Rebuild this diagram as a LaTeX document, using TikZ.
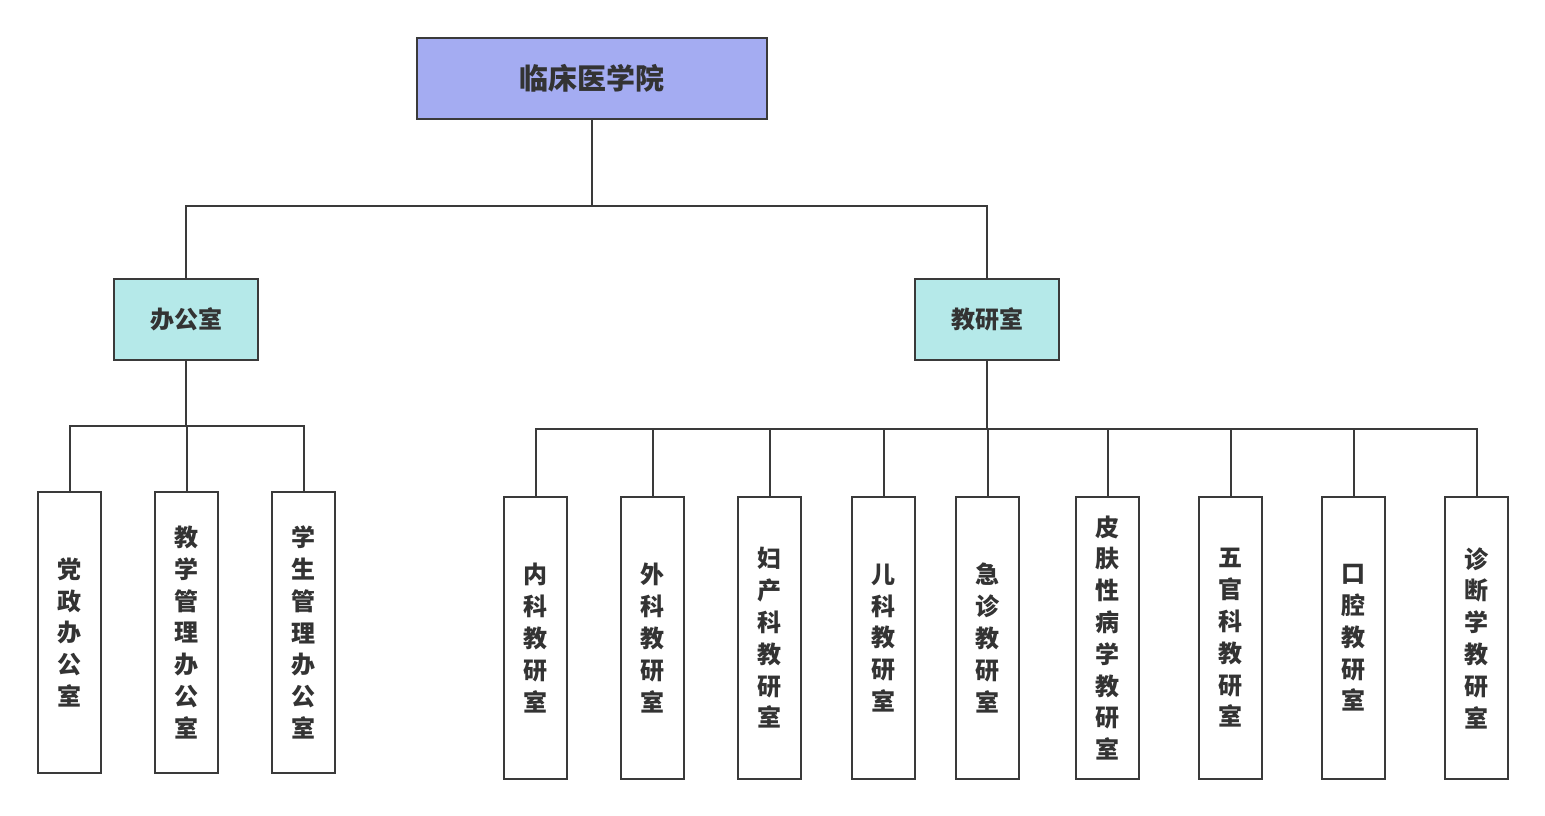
\documentclass[tikz,border=0pt]{standalone}
\usepackage{fontspec}
\usepackage{tikz}
\newfontfamily\cjk{Noto Sans CJK SC}[BoldFont={Noto Sans CJK SC Black}]
\definecolor{rootfill}{HTML}{A4ACF2}
\definecolor{deptfill}{HTML}{B5E9E9}
\definecolor{linegray}{HTML}{3A3A3A}
\definecolor{textgray}{HTML}{333333}

\begin{document}
\begin{tikzpicture}[x=1pt,y=1pt,yscale=-1,
	box/.style={draw=linegray, line width=2pt, inner sep=0pt, text=textgray, align=center, font=\cjk\bfseries},
	rootbox/.style={box, fill=rootfill, minimum width=350pt, minimum height=81pt, font=\cjk\bfseries\fontsize{29}{34}\selectfont},
	deptbox/.style={box, fill=deptfill, minimum width=144pt, minimum height=81pt, font=\cjk\bfseries\fontsize{24}{30}\selectfont},
	unitbox/.style={box, fill=white, minimum width=63pt, minimum height=282pt, font=\cjk\bfseries\fontsize{24}{31.8}\selectfont},
	link/.style={draw=linegray, line width=2pt}]
	\useasboundingbox (0,0) rectangle (1545,816);
	
	% top level
	\node [rootbox] (college) at (592,78.5) {临床医学院};
	\node [deptbox] (office) at (186,319.5) {办公室};
	\node [deptbox] (research) at (987,319.5) {教研室};
	
	% offices
	\node [unitbox, minimum height=281pt] (party) at (69.5,632.5) {党\\政\\办\\公\\室};
	\node [unitbox, minimum height=281pt] (teaching) at (186.5,632.5) {教\\学\\管\\理\\办\\公\\室};
	\node [unitbox, minimum height=281pt] (student) at (303.5,632.5) {学\\生\\管\\理\\办\\公\\室};
	
	% teaching and research sections
	\node [unitbox] (internal) at (535.5,638) {内\\科\\教\\研\\室};
	\node [unitbox] (surgery) at (652.5,638) {外\\科\\教\\研\\室};
	\node [unitbox] (obgyn) at (769.5,638) {妇\\产\\科\\教\\研\\室};
	\node [unitbox] (pediatrics) at (883.5,638) {儿\\科\\教\\研\\室};
	\node [unitbox] (emergency) at (987.5,638) {急\\诊\\教\\研\\室};
	\node [unitbox] (derma) at (1107.5,638) {皮\\肤\\性\\病\\学\\教\\研\\室};
	\node [unitbox] (ent) at (1230.5,638) {五\\官\\科\\教\\研\\室};
	\node [unitbox] (oral) at (1353.5,638) {口\\腔\\教\\研\\室};
	\node [unitbox] (diagnosis) at (1476.5,638) {诊\\断\\学\\教\\研\\室};
	
	% connections
	\foreach \child in {office,research}
		\draw [link] (college.south) -- ++(0,86) -| (\child.north);
	\foreach \child in {party,teaching,student}
		\draw [link] (office.south) -- ++(0,65) -| (\child.north);
	\foreach \child in {internal,surgery,obgyn,pediatrics,emergency,derma,ent,oral,diagnosis}
		\draw [link] (research.south) -- ++(0,68) -| (\child.north);
\end{tikzpicture}
\end{document}
